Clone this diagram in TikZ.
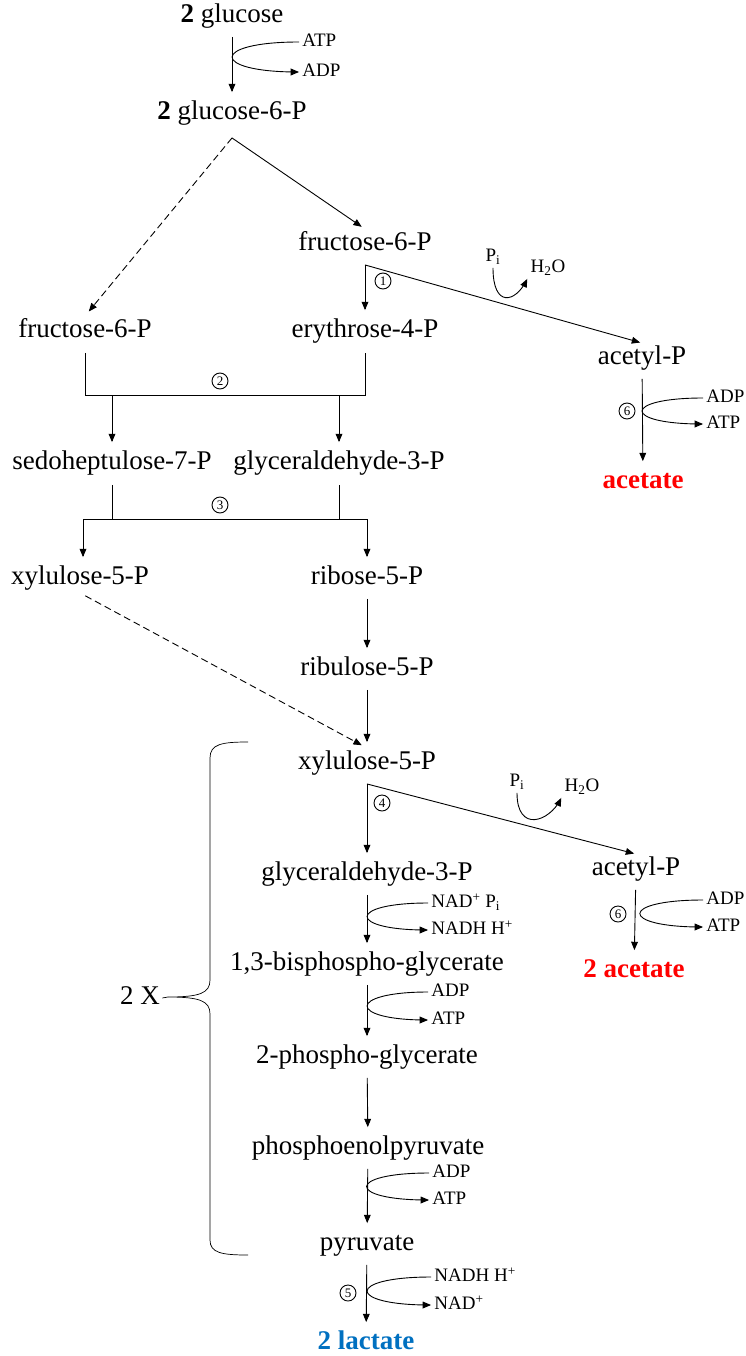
\documentclass[tikz,border=0pt]{standalone}
\usepackage{fontspec}
\setmainfont{Liberation Serif}
\usetikzlibrary{positioning}
\usetikzlibrary{arrows}
\definecolor{acred}{RGB}{255,0,0}
\definecolor{lacblue}{RGB}{0,112,192}
\tikzstyle{met} = [font=\fontsize{27}{30}\selectfont,inner sep=2pt,text height=19pt,text depth=6pt]
\tikzstyle{cof} = [font=\fontsize{19}{21}\selectfont,inner sep=3pt,text height=12pt,text depth=3pt,anchor=west]
\tikzstyle{enz} = [circle,draw,inner sep=0pt,minimum size=16pt,font=\fontsize{13}{13}\selectfont]
\tikzstyle{rx} = [->,shorten <=6pt,shorten >=6pt]
\tikzstyle{dsh} = [dash pattern=on 7pt off 4pt]
\tikzset{>={triangle 45}}

\begin{document}
\begin{tikzpicture}[x=1pt,y=1pt,line width=0.9pt]
  \useasboundingbox (0,0) rectangle (746,-1356);

  % upper part
  \node [met] (glc) at (232,-16) {\textbf{2} glucose};
  \node [met] (g6p) at (232,-113) {\textbf{2} glucose-6-P};
  \node [met] (f6r) at (365,-244) {fructose-6-P};
  \node [met] (f6l) at (85,-331) {fructose-6-P};
  \node [met] (e4p) at (365,-331) {erythrose-4-P};
  \node [met] (acp1) at (642,-358) {acetyl-P};
  \node [met,font=\fontsize{27}{30}\selectfont\bfseries,text=acred] (ac1) at (643,-482) {acetate};
  \node [met] (s7p) at (112,-463) {sedoheptulose-7-P};
  \node [met] (ga3a) at (339,-463) {glyceraldehyde-3-P};
  \node [met] (x5l) at (80,-578) {xylulose-5-P};
  \node [met] (r5p) at (367,-578) {ribose-5-P};
  \node [met] (ru5p) at (367,-669) {ribulose-5-P};

  % lower part
  \node [met] (x5p) at (367,-763) {xylulose-5-P};
  \node [met] (ga3b) at (367,-874) {glyceraldehyde-3-P};
  \node [met] (acp2) at (636,-869) {acetyl-P};
  \node [met,font=\fontsize{27}{30}\selectfont\bfseries,text=acred] (ac2) at (634,-971) {2 acetate};
  \node [met] (bpg) at (367,-964) {1,3-bisphospho-glycerate};
  \node [met] (pg2) at (367,-1057) {2-phospho-glycerate};
  \node [met] (pep) at (368,-1148) {phosphoenolpyruvate};
  \node [met] (pyr) at (367,-1244) {pyruvate};
  \node [met,font=\fontsize{27}{30}\selectfont\bfseries,text=lacblue] (lac) at (366,-1343) {2 lactate};
  \node [met] (twox) at (140,-998) {2 X};

  % cofactors
  \node [cof] (atp1) at (299,-42) {ATP};
  \node [cof] (adp1) at (299,-72) {ADP};
  \node [cof,anchor=center] (pi1) at (493,-257) {P\textsubscript{i}};
  \node [cof,anchor=center] (h2o1) at (548,-268) {H\textsubscript{2}O};
  \node [cof] (adp2) at (703,-398) {ADP};
  \node [cof] (atp2) at (703,-424) {ATP};
  \node [cof,anchor=center] (pi2) at (517,-782) {P\textsubscript{i}};
  \node [cof,anchor=center] (h2o2) at (582,-787) {H\textsubscript{2}O};
  \node [cof] (nad1) at (428,-903) {NAD\textsuperscript{+} P\textsubscript{i}};
  \node [cof] (nadh1) at (428,-930) {NADH H\textsuperscript{+}};
  \node [cof] (adp3) at (703,-900) {ADP};
  \node [cof] (atp3) at (703,-927) {ATP};
  \node [cof] (adp4) at (428,-992) {ADP};
  \node [cof] (atp4) at (428,-1020) {ATP};
  \node [cof] (adp5) at (429,-1173) {ADP};
  \node [cof] (atp5) at (429,-1200) {ATP};
  \node [cof] (nadh2) at (431,-1277) {NADH H\textsuperscript{+}};
  \node [cof] (nad2) at (431,-1305) {NAD\textsuperscript{+}};

  % enzymes
  \node [enz] (e1) at (383,-281) {1};
  \node [enz] (e2) at (220,-381) {2};
  \node [enz] (e3) at (220,-505) {3};
  \node [enz] (e4) at (382,-803) {4};
  \node [enz] (e5) at (348,-1293) {5};
  \node [enz] (e6a) at (627,-411) {6};
  \node [enz] (e6b) at (618,-914) {6};

  \coordinate (sp0) at ([yshift=-10pt]g6p.south);
  \coordinate (sp1) at ([yshift=-6pt]f6r.south);
  \coordinate (sp4) at ([yshift=-6pt]x5p.south);
  \coordinate (bar2) at (0,-395);
  \coordinate (bar3) at (0,-519);

  \draw [rx] (glc) -- (g6p);
  \draw [->] (atp1.west) .. controls +(-89,0) and +(-89,0) .. (adp1.west);

  \draw [->,shorten >=4pt] (sp0) -- (f6r.north);
  \draw [->,dsh,shorten >=6pt] (sp0) -- (f6l.north);

  \draw [->,shorten >=6pt] (sp1) -- (e4p.north);
  \draw [->,shorten >=2pt] (sp1) -- (acp1.north);
  \draw [->] (pi1.south) .. controls +(0,-40) and +(-12,-24) .. (h2o1.south west);

  \draw [rx] (acp1) -- (ac1);
  \draw [->] (adp2.west) .. controls +(-81,0) and +(-81,0) .. (atp2.west);

  \draw ([yshift=-7pt]f6l.south) -- (f6l.south |- bar2) -| ([yshift=-7pt]e4p.south);
  \draw [->,shorten >=6pt] (s7p |- bar2) -- (s7p.north);
  \draw [->,shorten >=6pt] (ga3a |- bar2) -- (ga3a.north);

  \draw ([yshift=-7pt]s7p.south) -- (s7p.south |- bar3) -| ([yshift=-7pt]ga3a.south);
  \draw ([xshift=3pt]x5l |- bar3) -- (r5p |- bar3);
  \draw [->,shorten >=6pt] ([xshift=3pt]x5l |- bar3) -- ([xshift=3pt]x5l.north);
  \draw [->,shorten >=6pt] (r5p |- bar3) -- (r5p.north);

  \draw [->,dsh,shorten <=6pt,shorten >=6pt] (x5l.south) -- (x5p.north);
  \draw [rx] (r5p) -- (ru5p);
  \draw [rx] (ru5p) -- (x5p);

  \draw [->,shorten >=6pt] (sp4) -- (ga3b.north);
  \draw [->,shorten >=2pt] (sp4) -- (acp2.north);
  \draw [->] (pi2.south) .. controls +(0,-40) and +(-12,-24) .. (h2o2.south west);

  \draw [rx] (acp2) -- (ac2);
  \draw [->] (adp3.west) .. controls +(-84,0) and +(-84,0) .. (atp3.west);

  \draw [rx] (ga3b) -- (bpg);
  \draw [->] (nad1.west) .. controls +(-81,0) and +(-81,0) .. (nadh1.west);
  \draw [rx] (bpg) -- (pg2);
  \draw [->] (adp4.west) .. controls +(-81,0) and +(-81,0) .. (atp4.west);
  \draw [rx] (pg2) -- (pep);
  \draw [rx] (pep) -- (pyr);
  \draw [->] (adp5.west) .. controls +(-83,0) and +(-83,0) .. (atp5.west);
  \draw [rx] (pyr) -- (lac);
  \draw [->] (nadh2.west) .. controls +(-85,0) and +(-85,0) .. (nad2.west);

  % brace
  \draw [line width=0.7pt] (248,-742) .. controls (222,-742) and (210,-744) .. (210,-758)
    -- (210,-980) .. controls (210,-993) and (200,-997) .. (168,-997)
    .. controls (200,-997) and (210,-1001) .. (210,-1014)
    -- (210,-1240) .. controls (210,-1253) and (222,-1255) .. (248,-1255);
  \draw [line width=0.7pt] (twox.east) -- (168,-997);
\end{tikzpicture}
\end{document}
